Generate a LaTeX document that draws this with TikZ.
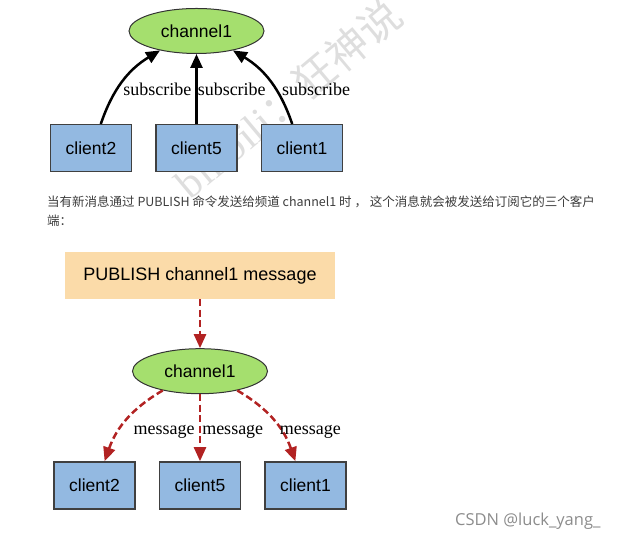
\documentclass[tikz,border=0pt]{standalone}
\usepackage{fontspec}
\setmainfont{Liberation Serif}
\setsansfont{Liberation Sans}
\newfontfamily\cjk{Noto Sans CJK SC}
\newfontfamily\csdnfont{Open Sans}
\usepackage{xcolor}
\usetikzlibrary{arrows.meta,positioning}
\usetikzlibrary{shapes.geometric}

\definecolor{changreen}{HTML}{A5DF6E}
\definecolor{cliblue}{HTML}{93B9E1}
\definecolor{pubpeach}{HTML}{FBDBA9}
\definecolor{msgred}{HTML}{B22222}
\definecolor{notegray}{HTML}{3C3C3C}

\tikzset{
  channel/.style={ellipse, draw=black!80, line width=1pt, fill=changreen,
    minimum width=135pt, minimum height=45pt, inner sep=0pt,
    font=\sffamily\fontsize{17.5}{20}\selectfont},
  clientbox/.style={rectangle, draw=black!75, line width=1.5pt, fill=cliblue,
    minimum width=81pt, minimum height=47pt, inner sep=0pt,
    font=\sffamily\fontsize{17.5}{20}\selectfont},
  pubbox/.style={rectangle, fill=pubpeach, minimum width=270pt,
    minimum height=47pt, inner sep=0pt,
    font=\sffamily\fontsize{18}{21}\selectfont},
  subarrow/.style={-{Triangle[length=14pt,width=12pt]}, line width=2.5pt},
  msgarrow/.style={-{Triangle[length=14pt,width=12pt]}, line width=2.5pt,
    msgred, dash pattern=on 7pt off 3.5pt},
  edgelabel/.style={anchor=west, inner sep=0pt, text=black,
    font=\fontsize{18}{20}\selectfont},
}

\begin{document}
\begin{tikzpicture}[x=1pt,y=1pt,node distance=23pt]
  \useasboundingbox (0,0) rectangle (621,551);
  % watermark
  \node[rotate=40, text=black!13, font=\fontsize{42}{42}\selectfont] (wm)
    at (288,453) {bilibili\cjk：狂神说};

  % subscribe
  \node[channel] (chan) at (196.5,520) {channel1};
  \node[clientbox] (sub5) [below=70pt of chan] {client5};
  \node[clientbox] (sub2) [left=of sub5] {client2};
  \node[clientbox] (sub1) [right=of sub5] {client1};
  \draw[subarrow] (sub2) edge[bend left=20] node[edgelabel, pos=.39, xshift=5pt] {subscribe} (chan);
  \draw[subarrow] (sub5) edge node[edgelabel] {subscribe} (chan);
  \draw[subarrow] (sub1) edge[bend right=20] node[edgelabel, pos=.39, xshift=5pt] {subscribe} (chan);

  \node[anchor=north west, align=left, inner sep=0pt, text=notegray,
    font=\cjk\fontsize{12.5}{19}\selectfont] (note) at (47,355)
    {当有新消息通过 PUBLISH 命令发送给频道 channel1 时 ， 这个消息就会被发送给订阅它的三个客户\\端：};

  % publish
  \node[pubbox] (pub) at (200,275.5) {PUBLISH channel1 message};
  \node[channel] (bchan) [below=49pt of pub] {channel1};
  \node[clientbox] (rcv5) [below=67pt of bchan] {client5};
  \node[clientbox] (rcv2) [left=of rcv5] {client2};
  \node[clientbox] (rcv1) [right=of rcv5] {client1};
  \draw[msgarrow] (pub) edge (bchan);
  \draw[msgarrow] (bchan) edge[bend right=20] node[edgelabel, pos=.66, xshift=14pt] {message} (rcv2);
  \draw[msgarrow] (bchan) edge node[edgelabel, pos=.56, xshift=1pt] {message} (rcv5);
  \draw[msgarrow] (bchan) edge[bend left=20] node[edgelabel, pos=.66, xshift=-3pt] {message} (rcv1);

  \node[anchor=east, text=black!45, font=\csdnfont\fontsize{16.5}{16.5}\selectfont]
    (csdn) at (604,30) {CSDN @luck\_yang\_};
\end{tikzpicture}
\end{document}
